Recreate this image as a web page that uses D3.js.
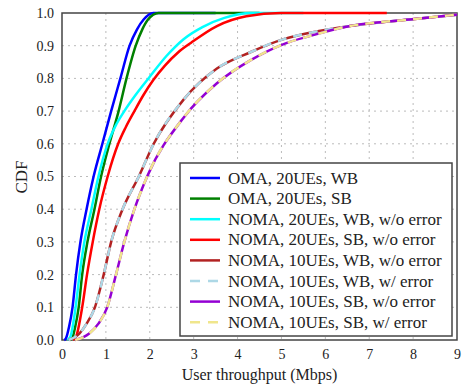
<!DOCTYPE html>
<html><head><meta charset="utf-8">
<script src="https://cdn.jsdelivr.net/npm/d3@7"></script>
<style>body{margin:0;background:#fff}text{font-family:"Liberation Serif","Times New Roman",serif}</style>
</head><body><svg id="c" width="462" height="386"></svg>
<script>
const xTicks = [0,1,2,3,4,5,6,7,8,9];
const yTicks = [0,0.1,0.2,0.3,0.4,0.5,0.6,0.7,0.8,0.9,1.0];
const seriesNames = ["OMA, 20UEs, WB","OMA, 20UEs, SB","NOMA, 20UEs, WB, w/o error","NOMA, 20UEs, SB, w/o error","NOMA, 10UEs, WB, w/o error","NOMA, 10UEs, WB, w/ error","NOMA, 10UEs, SB, w/o error","NOMA, 10UEs, SB, w/ error"];
const omaWB = [[0.05,0],[0.09,0.005],[0.16,0.04],[0.24,0.1],[0.32,0.2],[0.42,0.3],[0.56,0.4],[0.72,0.5],[0.92,0.6],[1.12,0.7],[1.33,0.8],[1.54,0.9],[1.71,0.95],[1.86,0.98],[2.08,1.0],[3.5,1.0]];
const omaSB = [[0.18,0],[0.23,0.005],[0.3,0.04],[0.38,0.1],[0.46,0.2],[0.58,0.3],[0.74,0.4],[0.89,0.5],[1.08,0.6],[1.29,0.7],[1.47,0.8],[1.68,0.9],[1.83,0.95],[1.96,0.98],[2.2,1.0],[4.5,1.0]];
const nomaWB20 = [[0.12,0],[0.19,0.01],[0.31,0.1],[0.4,0.2],[0.51,0.3],[0.67,0.4],[0.83,0.5],[1.04,0.6],[1.22,0.655],[1.42,0.7],[1.68,0.75],[1.97,0.8],[2.39,0.87],[2.77,0.92],[3.2,0.957],[3.7,0.985],[4.3,1.0],[5.5,1.0]];
const nomaSB20 = [[0.25,0],[0.32,0.01],[0.46,0.1],[0.57,0.2],[0.7,0.3],[0.85,0.4],[1.04,0.5],[1.28,0.6],[1.45,0.65],[1.65,0.7],[1.86,0.75],[2.08,0.795],[2.35,0.84],[2.65,0.88],[2.95,0.91],[3.53,0.96],[4.2,0.99],[5.0,1.0],[7.4,1.0]];
const nomaWB10 = [[0.15,0],[0.4,0.02],[0.56,0.05],[0.75,0.1],[0.95,0.2],[1.12,0.3],[1.38,0.4],[1.75,0.5],[2.09,0.6],[2.77,0.735],[3.53,0.83],[4.29,0.88],[5.05,0.92],[5.66,0.94],[6.56,0.96],[7.92,0.98],[9,0.995]];
const nomaWB10err = nomaWB10;
const nomaSB10 = [[0.3,0],[0.62,0.02],[0.83,0.05],[1.03,0.1],[1.23,0.2],[1.42,0.3],[1.65,0.4],[1.94,0.5],[2.77,0.68],[3.53,0.785],[4.29,0.855],[5.05,0.905],[5.66,0.93],[6.56,0.96],[7.92,0.98],[9,0.995]];
const nomaSB10err = nomaSB10;

const colors = ["#0000ff","#008000","#00ffff","#ff0000","#b22222","#add8e6","#9400d3","#f0e68c"];
const dashed = [false,false,false,false,false,true,false,true];
const data = [omaWB,omaSB,nomaWB20,nomaSB20,nomaWB10,nomaWB10err,nomaSB10,nomaSB10err];

const L=62,R=457,T=13,B=340;
const x = d3.scaleLinear().domain([0,9]).range([L,R]);
const y = d3.scaleLinear().domain([0,1]).range([B,T]);
const svg = d3.select("#c");

// grid
svg.append("g").selectAll("line").data(xTicks.slice(1,-1)).join("line")
  .attr("x1",d=>x(d)).attr("x2",d=>x(d)).attr("y1",T).attr("y2",B)
  .attr("stroke","#bbb").attr("stroke-width",1).attr("stroke-dasharray","2,4");
svg.append("g").selectAll("line").data(yTicks.slice(1,-1)).join("line")
  .attr("y1",d=>y(d)).attr("y2",d=>y(d)).attr("x1",L).attr("x2",R)
  .attr("stroke","#bbb").attr("stroke-width",1).attr("stroke-dasharray","2,4");

// axes
const xa = svg.append("g").attr("transform",`translate(0,${B})`)
  .call(d3.axisBottom(x).tickValues(xTicks).tickSize(0).tickPadding(9).tickFormat(d3.format("d")));
const ya = svg.append("g").attr("transform",`translate(${L},0)`)
  .call(d3.axisLeft(y).tickValues(yTicks).tickSize(0).tickPadding(8).tickFormat(d3.format(".1f")));
[xa,ya].forEach(a=>{a.select(".domain").remove();a.selectAll("text").attr("font-size",14).attr("fill","#222").style("font-family","Liberation Serif");});

// frame
svg.append("rect").attr("x",L).attr("y",T).attr("width",R-L).attr("height",B-T)
  .attr("fill","none").attr("stroke","#444").attr("stroke-width",1.5);

// lines
const line = d3.line().x(d=>x(d[0])).y(d=>y(d[1])).curve(d3.curveMonotoneX);
svg.append("g").selectAll("path").data(data).join("path")
  .attr("d",line).attr("fill","none")
  .attr("stroke",(d,i)=>colors[i]).attr("stroke-width",2.5)
  .attr("stroke-dasharray",(d,i)=>dashed[i]?"9,7":null);

// legend
const lg = svg.append("g");
lg.append("rect").attr("x",180).attr("y",163).attr("width",272).attr("height",173)
  .attr("fill","#fff").attr("stroke","#444").attr("stroke-width",1.5);
seriesNames.forEach((n,i)=>{
  const cy = 178 + i*20.6;
  lg.append("line").attr("x1",190).attr("x2",220).attr("y1",cy).attr("y2",cy)
    .attr("stroke",colors[i]).attr("stroke-width",2.5).attr("stroke-dasharray",dashed[i]?"10,8":null);
  lg.append("text").attr("x",228).attr("y",cy+5.5).attr("font-size",17).attr("fill","#222").text(n);
});

// axis titles
svg.append("text").attr("x",(L+R)/2).attr("y",380).attr("text-anchor","middle").attr("font-size",16).attr("fill","#222").text("User throughput (Mbps)");
svg.append("text").attr("transform","translate(27,177) rotate(-90)").attr("text-anchor","middle").attr("font-size",17).attr("fill","#222").text("CDF");
</script></body></html>
